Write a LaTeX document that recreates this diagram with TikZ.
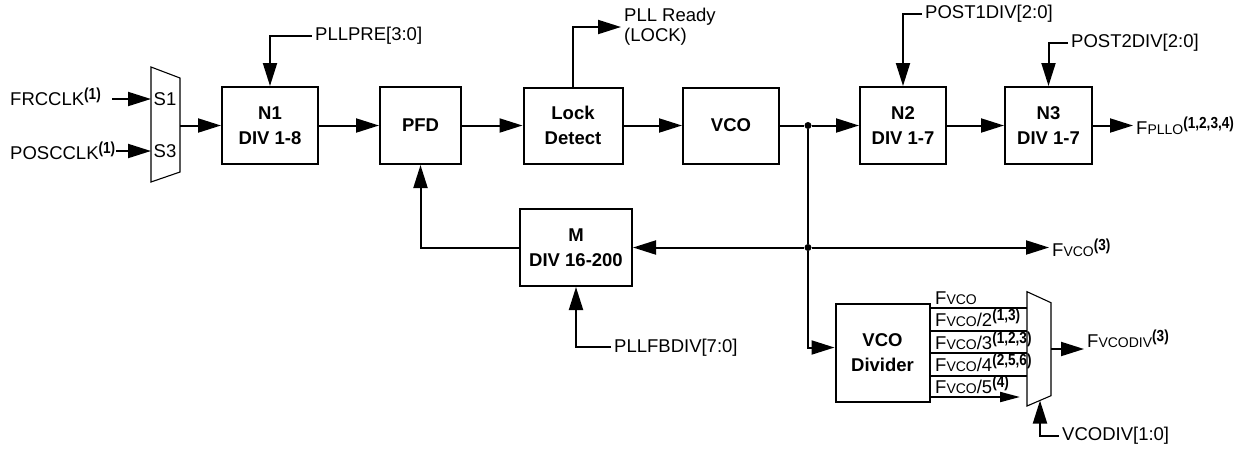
\documentclass[tikz,border=0pt]{standalone}
\usepackage{fontspec}
\usepackage{graphicx}
\setmainfont{Liberation Sans}
\usetikzlibrary{arrows.meta}
\newcommand{\smc}[1]{{\fontsize{14}{14}\selectfont #1}}
\newcommand{\supn}[1]{\raisebox{6pt}{\scalebox{0.85}[1]{\fontsize{16}{16}\selectfont\bfseries #1}}}
\begin{document}
\begin{tikzpicture}[x=1pt,y=-1pt,
  wire/.style={line width=2pt},
  arr/.style={wire,-{Triangle[length=23pt,width=14pt]}},
  blk/.style={draw,line width=2pt,align=center,font=\fontsize{18.5}{25}\selectfont\bfseries,inner sep=0pt},
  lbl/.style={font=\fontsize{18.5}{20}\selectfont,inner xsep=3pt,inner ysep=0pt},
  muxs/.style={line width=1.1pt},
  jdot/.style={circle,fill,inner sep=0pt,minimum size=7pt}]
\useasboundingbox (0,0) rectangle (1256,448);

% blocks
\node[blk,minimum width=96pt,minimum height=77pt] (N1) at (270,125.5) {N1\\DIV 1-8};
\node[blk,minimum width=81pt,minimum height=77pt] (PFD) at (420.5,125.5) {PFD};
\node[blk,minimum width=99pt,minimum height=76pt] (Lock) at (573,125.5) {Lock\\Detect};
\node[blk,minimum width=96pt,minimum height=76pt] (VCO) at (731,125.5) {VCO};
\node[blk,minimum width=86pt,minimum height=77pt] (N2) at (903,125.5) {N2\\DIV 1-7};
\node[blk,minimum width=87pt,minimum height=77pt] (N3) at (1048.5,125.5) {N3\\DIV 1-7};
\node[blk,minimum width=112pt,minimum height=77pt] (M) at (576,247.5) {M\\DIV 16-200};
\node[blk,minimum width=94pt,minimum height=98pt] (VD) at (882.5,352.5) {VCO\\Divider};

% input mux
\draw[muxs] (151,67) -- (180,78) -- (180,172) -- (151,182) -- cycle;
\coordinate (s1) at (151,99);
\coordinate (s3) at (151,151);
\coordinate (m1o) at (180,125.5);
\node[lbl,inner xsep=0pt] (S1l) at (165,99) {S1};
\node[lbl,inner xsep=0pt] (S3l) at (165,151) {S3};
\node[lbl,anchor=base west,inner xsep=0pt] (frc) at (10,105) {FRCCLK\supn{(1)}};
\node[lbl,anchor=base west,inner xsep=0pt] (posc) at (10,159) {POSCCLK\supn{(1)}};
\draw[arr,shorten <=11pt] (frc.east |- s1) -- (s1);
\draw[arr,shorten <=1pt] (posc.east |- s3) -- (s3);
\draw[arr] (m1o) -- (N1.west |- m1o);

% main chain
\draw[arr] (N1) -- (PFD);
\draw[arr] (PFD) -- (Lock);
\draw[arr] (Lock) -- (VCO);
\node[jdot] (j1) at (808,125.5) {};
\node[jdot] (j2) at (808,247.5) {};
\draw[wire] (VCO) -- (j1);
\draw[arr] (j1) -- (N2);
\draw[arr] (N2) -- (N3);

% control labels
\node[lbl,anchor=west] (pllpre) at (312,36) {PLLPRE[3:0]};
\draw[arr] (pllpre.west) -| (N1.north);
\node[lbl,anchor=west,align=left] (rdy) at (621,27) {PLL Ready\\(LOCK)};
\draw[arr] (Lock.north) |- (rdy.west);
\node[lbl,anchor=west] (post1) at (922,13.5) {POST1DIV[2:0]};
\draw[arr] (post1.west) -| (N2.north);
\node[lbl,anchor=west] (post2) at (1068,42.5) {POST2DIV[2:0]};
\draw[arr] (post2.west) -| (N3.north);
\node[lbl,anchor=west] (fpllo) at (1133,125.5) {F\smc{PLLO}\supn{(1,2,3,4)}};
\draw[arr] (N3.east) -- (fpllo.west);

% feedback
\draw[wire] (j1) -- (j2);
\draw[arr] (j2) -- (M);
\draw[arr] (M.west) -| (PFD.south);
\node[lbl,anchor=west] (pllfb) at (611,347.3) {PLLFBDIV[7:0]};
\draw[arr] (pllfb.west) -| (M.south);
\node[lbl,anchor=west] (fvco) at (1049,247.5) {F\smc{VCO}\supn{(3)}};
\draw[arr] (j2) -- (fvco.west);
\draw[arr] (j2) |- ([yshift=5pt]VD.west);

% output mux
\draw[muxs] (1027,291.7) -- (1051,302.7) -- (1051,395.7) -- (1027,406) -- cycle;
\coordinate (m2a) at (1027,308);
\coordinate (m2b) at (1027,330.5);
\coordinate (m2c) at (1027,353);
\coordinate (m2d) at (1027,375.5);
\coordinate (m2e) at (1020,397);
\coordinate (m2o) at (1051,349);
\coordinate (m2s) at (1040,400.5);
\draw[wire] (VD.east |- m2a) -- (m2a);
\draw[wire] (VD.east |- m2b) -- (m2b);
\draw[wire] (VD.east |- m2c) -- (m2c);
\draw[wire] (VD.east |- m2d) -- (m2d);
\draw[wire,-{Triangle[length=20pt,width=10pt]}] (VD.east |- m2e) -- (m2e);
\node[lbl,anchor=base west] (lv0) at (932,304) {F\smc{VCO}};
\node[lbl,anchor=base west] (lv1) at (932,326.5) {F\smc{VCO}/2\supn{(1,3)}};
\node[lbl,anchor=base west] (lv2) at (932,349) {F\smc{VCO}/3\supn{(1,2,3)}};
\node[lbl,anchor=base west] (lv3) at (932,371.5) {F\smc{VCO}/4\supn{(2,5,6)}};
\node[lbl,anchor=base west] (lv4) at (932,393) {F\smc{VCO}/5\supn{(4)}};
\node[lbl,anchor=base west] (fvcodiv) at (1084,347) {F\smc{VCODIV}\supn{(3)}};
\draw[arr] (m2o) -- (m2o -| fvcodiv.west);
\node[lbl,anchor=west] (vcodiv) at (1059,436) {VCODIV[1:0]};
\draw[arr] (vcodiv.west) -| (m2s);
\end{tikzpicture}
\end{document}
